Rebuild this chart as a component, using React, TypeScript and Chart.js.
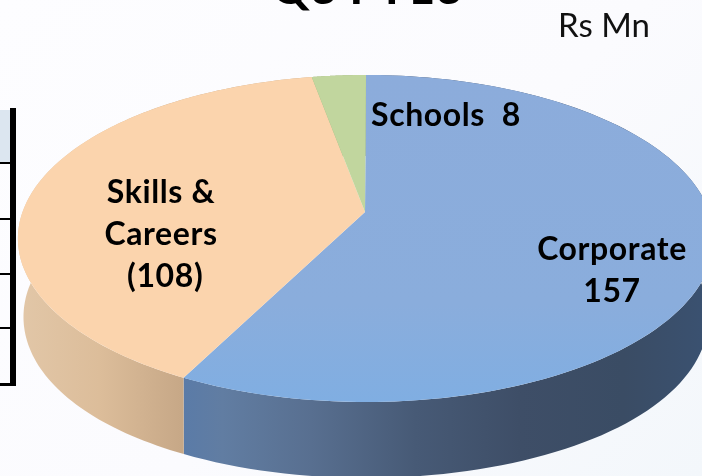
import React, { useEffect, useRef } from "react";
import { Chart, registerables } from "chart.js";

Chart.register(...registerables);

const categories = ["Corporate", "Skills & Careers", "Schools"];
const values = [157, 108, 8];
const sliceColors = ["#8aaddc", "#fbd4ad", "#c1d69e"];
const titleText = "Q3 FY13";
const unitText = "Rs Mn";
const sliceLabels = [
  { lines: ["Corporate", "157"], x: 612, y: 250 },
  { lines: ["Skills &", "Careers", " (108)"], x: 161, y: 193 },
  { lines: ["Schools  8"], x: 446, y: 116 },
];
const tableLines = [162, 218, 273, 327];

const CX = 366, RIM_CY = 238.5, RIM_RY = 163.5, RIM_RX = 348;
const LOW_CY = 317, LOW_RY = 161;
const C = -0.162, A = 124.85, B = 212, D = 343.5;

function rim(theta: number) {
  const u = Math.sin(theta), v = -Math.cos(theta);
  const w = 1 + C * v;
  return { x: CX + (D * u) / w, y: (B + A * v) / w };
}
function low(theta: number) {
  const p = rim(theta);
  const dx = p.x - CX;
  const k = 1 - 0.016 * Math.pow(Math.abs(dx) / RIM_RX, 4);
  return { x: CX + dx * k, y: LOW_CY + ((p.y - RIM_CY) * LOW_RY) / RIM_RY };
}

const pie3d = {
  id: "pie3d",
  beforeDatasetDraw(chart: any) {
    const ctx: CanvasRenderingContext2D = chart.ctx;
    const arcs = chart.getDatasetMeta(0).data;
    const blue = ctx.createLinearGradient(181, 0, 702, 0);
    [[0, "#5a7ba8"], [0.08, "#617da2"], [0.25, "#586f90"], [0.45, "#475a76"], [0.65, "#3e4e67"], [0.85, "#3a4c64"], [1, "#3a5170"]]
      .forEach(([o, c]) => blue.addColorStop(o as number, c as string));
    const peach = ctx.createLinearGradient(18, 0, 181, 0);
    [[0, "#e2c7a8"], [0.5, "#dcbd9a"], [1, "#c7a887"]].forEach(([o, c]) => peach.addColorStop(o as number, c as string));
    const sides = [blue, peach, "#9fb37f"];

    arcs.forEach((el: any, i: number) => {
      const a = el.startAngle + Math.PI / 2, b = el.endAngle + Math.PI / 2;
      ctx.beginPath();
      const n = 120;
      for (let k = 0; k <= n; k++) {
        const p = rim(a + ((b - a) * k) / n);
        k ? ctx.lineTo(p.x, p.y) : ctx.moveTo(p.x, p.y);
      }
      for (let k = n; k >= 0; k--) {
        const p = low(a + ((b - a) * k) / n);
        ctx.lineTo(p.x, p.y);
      }
      ctx.closePath();
      ctx.fillStyle = sides[i];
      ctx.fill();
    });

    const topBlue = ctx.createLinearGradient(0, 75, 0, 402);
    topBlue.addColorStop(0, "#8cacdb");
    topBlue.addColorStop(0.7, "#8aaddc");
    topBlue.addColorStop(1, "#80aee2");
    const fills = [topBlue, el0(arcs, 1), el0(arcs, 2)];
    arcs.forEach((el: any, i: number) => {
      const a = el.startAngle + Math.PI / 2, b = el.endAngle + Math.PI / 2;
      ctx.beginPath();
      ctx.moveTo(CX - 1, B);
      const n = 160;
      for (let k = 0; k <= n; k++) {
        const p = rim(a + ((b - a) * k) / n);
        ctx.lineTo(p.x, p.y);
      }
      ctx.closePath();
      ctx.fillStyle = fills[i];
      ctx.fill();
    });
    return false;
  },
  afterDraw(chart: any) {
    const ctx: CanvasRenderingContext2D = chart.ctx;
    ctx.save();
    ctx.fillStyle = "#000";
    ctx.textAlign = "center";
    ctx.textBaseline = "middle";
    ctx.font = "bold 32px Lato";
    (ctx as any).letterSpacing = "0.6px";
    sliceLabels.forEach((l) => {
      l.lines.forEach((t, i) => ctx.fillText(t, l.x, l.y + i * 42));
    });
    (ctx as any).letterSpacing = "0px";
    ctx.textBaseline = "alphabetic";
    ctx.font = "bold 48px Lato";
    ctx.fillText(titleText, 367, 4);
    ctx.font = "33px Lato";
    ctx.fillStyle = "#111";
    ctx.fillText(unitText, 604, 37);
    ctx.restore();
  },
};

function el0(arcs: any[], i: number) {
  return arcs[i].options.backgroundColor;
}

export default function App() {
  const ref = useRef<HTMLCanvasElement>(null);
  useEffect(() => {
    const chart = new Chart(ref.current!, {
      type: "pie",
      data: {
        labels: categories,
        datasets: [{ data: values, backgroundColor: sliceColors, borderWidth: 0 }],
      },
      options: {
        responsive: false,
        animation: false,
        plugins: { legend: { display: false }, tooltip: { enabled: false }, title: { display: false } },
      },
      plugins: [pie3d],
    } as any);
    return () => chart.destroy();
  }, []);
  return (
    <div style={{ position: "fixed", left: 0, top: 0, width: 702, height: 476, overflow: "hidden", background: "linear-gradient(135deg,#fdfdff 0%,#fbfbfe 55%,#f3f7fb 100%)" }}>
      <div style={{ position: "absolute", left: 0, top: 110, width: 11, height: 52, background: "#dce6f0" }} />
      <div style={{ position: "absolute", left: 10, top: 108, width: 6, height: 278, background: "#000" }} />
      <div style={{ position: "absolute", left: 0, top: 383, width: 15, height: 3, background: "#000" }} />
      {tableLines.map((y) => (
        <div key={y} style={{ position: "absolute", left: 0, top: y, width: 15, height: 2, background: "#000" }} />
      ))}
      <canvas ref={ref} width={702} height={476} style={{ position: "absolute", left: 0, top: 0 }} />
    </div>
  );
}
